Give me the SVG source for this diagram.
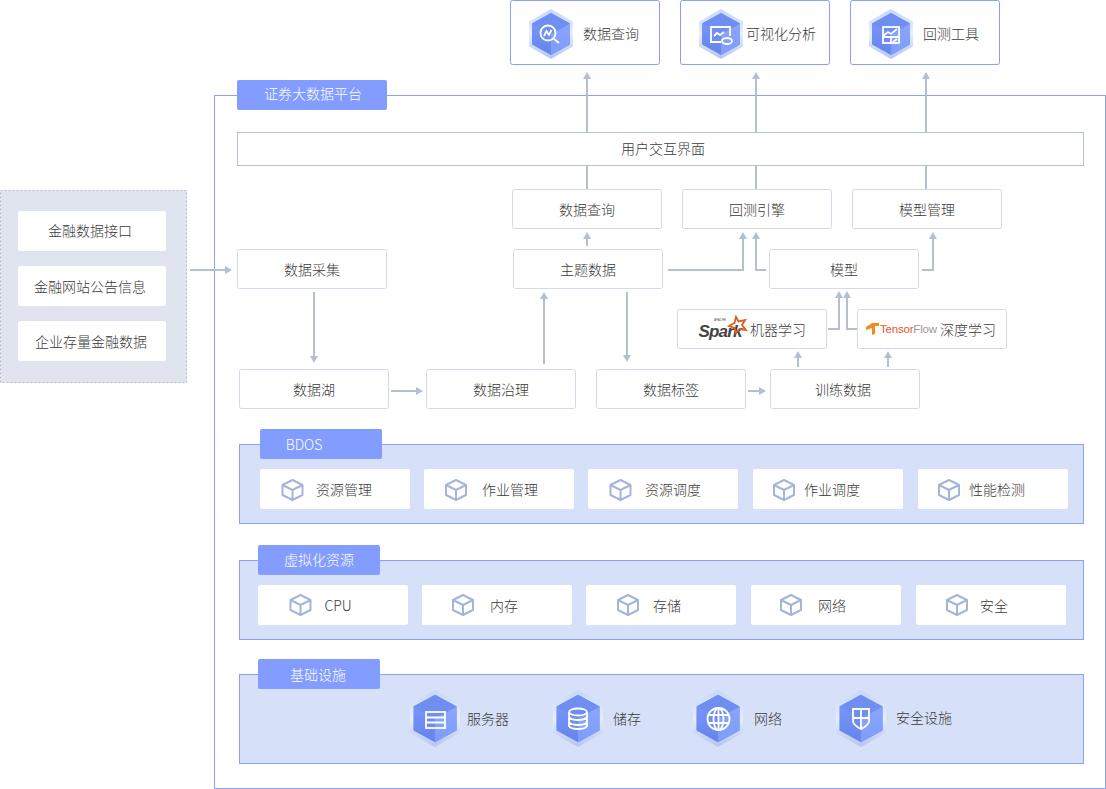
<svg xmlns="http://www.w3.org/2000/svg" width="1106" height="789" viewBox="0 0 1106 789">
<style>
text{font-family:"Noto Sans CJK SC","Noto Sans",sans-serif;font-size:14px;font-weight:300;fill:#3a3a3a;text-anchor:middle;dominant-baseline:central}
.b{fill:#fff;stroke:#d5d9e6;stroke-width:1}
.t{fill:#fff;stroke:#85a0ff;stroke-width:1}
.p{fill:#d6e0f8;stroke:#8ba3f5;stroke-width:1}
.tab{fill:#829cff}
.tab+text{fill:#fff}
.w{fill:#fff}
.c{fill:none;stroke:#b5bfd0;stroke-width:2}
.h{fill:#b5bfd0}
.ic{fill:none;stroke:#fff;stroke-width:1.800}
.cube{fill:none;stroke:#a5b5d8;stroke-width:2;stroke-linejoin:round}
</style>
<defs>
<linearGradient id="g1" x1="0" y1="0" x2="0" y2="1"><stop offset="0" stop-color="#c4d8fb"/><stop offset="0.5" stop-color="#e6eefd"/><stop offset="1" stop-color="#b4c5f0"/></linearGradient>
<linearGradient id="g2" x1="0" y1="0" x2="0" y2="1"><stop offset="0" stop-color="#7f9bfb"/><stop offset="1" stop-color="#6484ec"/></linearGradient>
<linearGradient id="g3" x1="0" y1="0" x2="0" y2="1"><stop offset="0" stop-color="#8aa5ff"/><stop offset="1" stop-color="#7f9cfb"/></linearGradient>
<symbol id="hex" viewBox="-22 -25 44 50" overflow="visible">
<polygon points="0,-25 22,-12.500 22,12.500 0,25 -22,12.500 -22,-12.500" fill="url(#g1)"/>
<polygon points="0,-21 19,-10.500 19,10.500 0,21 -19,10.500 -19,-10.500" fill="url(#g2)"/>
<polygon points="0,0 19,-10.500 19,10.500 0,21" fill="url(#g3)"/>
<polygon points="0,-21 19,-10.500 0,0 -19,-10.500" fill="#6f8ef2"/>
</symbol>
<g id="cb"><path class="cube" d="M0,-10 L10,-5 V5 L0,10 L-10,5 V-5 Z M-10,-5 L0,0 L10,-5 M0,0 V10"/></g>
</defs>
<g id="source">
<rect x="0.500" y="190.500" width="186" height="192" fill="#e0e4ee" stroke="#b4b8c2" stroke-dasharray="2 2"/>
<rect class="w" x="18" y="211" width="148" height="40" rx="2"/><text x="90" y="230">金融数据接口</text>
<rect class="w" x="18" y="266" width="148" height="40" rx="2"/><text x="90" y="286">金融网站公告信息</text>
<rect class="w" x="18" y="321" width="148" height="40" rx="2"/><text x="91" y="341">企业存量金融数据</text>
</g>
<g id="platform">
<rect x="214.500" y="95.500" width="891" height="693" fill="#fff" stroke="#8ba3f5"/>
<rect class="tab" x="237" y="80" width="150" height="30" rx="2"/><text x="313" y="93">证券大数据平台</text>
</g>
<g id="connectors">
<path class="c" d="M587,132V76M756,132V76M926,132V76M587,166V189M756,166V189M926,166V189M587,246V236M190,270H227M314,292V358M391,391H420M544,364V296M627,292V357M668,270H743V236M766,270H756V236M922,270H933V236M748,391H765M828,329H839V296M857,329H847V296M798,367V357M888,367V357"/>
<path class="h" d="M587,72l-4,7h8zM756,72l-4,7h8zM926,72l-4,7h8zM587,232l-4,7h8zM232,270l-7,-4v8zM314,363l-4,-7h8zM423,391l-7,-4v8zM544,292l-4,7h8zM627,362l-4,-7h8zM743,232l-4,7h8zM756,232l-4,7h8zM933,232l-4,7h8zM766,391l-7,-4v8zM839,291l-4,7h8zM847,291l-4,7h8zM798,351l-4,7h8zM888,351l-4,7h8z"/>
</g>
<g id="app-query"><rect class="t" x="510.500" y="0.500" width="149" height="64" rx="2"/><use href="#hex" x="529" y="9" width="44" height="50"/>
<circle class="ic" cx="548" cy="33" r="7.500"/><path class="ic" d="M544,36l2.500,-5 2.500,4 2.500,-5M554,39l5,4"/><text x="611" y="33">数据查询</text></g>
<g id="app-visual"><rect class="t" x="680.500" y="0.500" width="149" height="64" rx="2"/><use href="#hex" x="699" y="9" width="44" height="50"/>
<path class="ic" d="M721,42H711V27H730V36M714,36l3,-3 3,2 4,-3"/><ellipse class="ic" cx="727" cy="41" rx="5" ry="3"/><text x="781" y="33">可视化分析</text></g>
<g id="app-backtest"><rect class="t" x="850.500" y="0.500" width="149" height="64" rx="2"/><use href="#hex" x="869" y="9" width="44" height="50"/>
<rect class="ic" x="883" y="27" width="16" height="16"/><path class="ic" d="M883,36l5,-4 3,2 6,-5M883,37H899M891,37V43M893,42l4,-3"/><text x="951" y="33">回测工具</text></g>
<g id="ui"><rect x="237.500" y="132.500" width="846" height="33" fill="#fff" stroke="#b5bfd6"/><text x="663" y="148">用户交互界面</text></g>
<g id="n-query"><rect class="b" x="512.500" y="189.500" width="149" height="39" rx="2"/><text x="587" y="209">数据查询</text></g>
<g id="n-engine"><rect class="b" x="682.500" y="189.500" width="149" height="39" rx="2"/><text x="757" y="209">回测引擎</text></g>
<g id="n-model-mgmt"><rect class="b" x="852.500" y="189.500" width="149" height="39" rx="2"/><text x="927" y="209">模型管理</text></g>
<g id="n-collect"><rect class="b" x="237.500" y="249.500" width="149" height="39" rx="2"/><text x="312" y="269">数据采集</text></g>
<g id="n-theme"><rect class="b" x="513.500" y="249.500" width="149" height="39" rx="2"/><text x="588" y="269">主题数据</text></g>
<g id="n-model"><rect class="b" x="769.500" y="249.500" width="149" height="39" rx="2"/><text x="844" y="269">模型</text></g>
<g id="n-spark"><rect class="b" x="677.500" y="309.500" width="149" height="39" rx="2"/>
<text x="720" y="331" style="font-family:'Liberation Sans',sans-serif;font-style:italic;font-weight:bold;font-size:17px;fill:#444;letter-spacing:-0.800px">Spark</text>
<text x="720" y="320" style="font-family:'Liberation Sans',sans-serif;font-size:3px;fill:#555">APACHE</text>
<polygon points="736,317 738.500,321.500 745,320 742,325 746,330 739.500,329 736,333 734.500,328 729,326 734.500,323" fill="none" stroke="#e25a1c" stroke-width="1.800"/>
<text x="778" y="329">机器学习</text></g>
<g id="n-tf"><rect class="b" x="857.500" y="309.500" width="149" height="39" rx="2"/>
<path d="M866,327l6,-4 7,0 0,3 -4,0 0,8 -3,1 0,-7 -6,2z" fill="#f58a1f"/>
<text x="880" y="329" style="font-family:'Liberation Sans',sans-serif;font-size:11.500px;fill:#e55b2d;text-anchor:start;letter-spacing:-0.200px">Tensor<tspan fill="#9a9a9a">Flow</tspan></text>
<text x="968" y="329">深度学习</text></g>
<g id="n-lake"><rect class="b" x="239.500" y="369.500" width="149" height="39" rx="2"/><text x="314" y="389">数据湖</text></g>
<g id="n-gov"><rect class="b" x="426.500" y="369.500" width="149" height="39" rx="2"/><text x="501" y="389">数据治理</text></g>
<g id="n-label"><rect class="b" x="596.500" y="369.500" width="149" height="39" rx="2"/><text x="671" y="389">数据标签</text></g>
<g id="n-train"><rect class="b" x="770.500" y="369.500" width="149" height="39" rx="2"/><text x="843" y="389">训练数据</text></g>
<g id="bdos">
<rect class="p" x="239.500" y="444.500" width="844" height="79"/>
<rect class="tab" x="260" y="429" width="122" height="30" rx="2"/><text x="304" y="444">BDOS</text>
<g id="b1"><rect class="w" x="260" y="469" width="150" height="40" rx="2"/><use href="#cb" x="292.500" y="490"/><text x="344" y="489">资源管理</text></g>
<g id="b2"><rect class="w" x="424" y="469" width="150" height="40" rx="2"/><use href="#cb" x="456" y="490"/><text x="510" y="489">作业管理</text></g>
<g id="b3"><rect class="w" x="588" y="469" width="150" height="40" rx="2"/><use href="#cb" x="620.500" y="490"/><text x="673" y="489">资源调度</text></g>
<g id="b4"><rect class="w" x="753" y="469" width="150" height="40" rx="2"/><use href="#cb" x="784" y="490"/><text x="832" y="489">作业调度</text></g>
<g id="b5"><rect class="w" x="918" y="469" width="150" height="40" rx="2"/><use href="#cb" x="949" y="490"/><text x="997" y="489">性能检测</text></g>
</g>
<g id="virtual">
<rect class="p" x="239.500" y="560.500" width="844" height="79"/>
<rect class="tab" x="258" y="545" width="122" height="30" rx="2"/><text x="319" y="559">虚拟化资源</text>
<g id="v1"><rect class="w" x="258" y="585" width="150" height="40" rx="2"/><use href="#cb" x="300.500" y="605"/><text x="338" y="605">CPU</text></g>
<g id="v2"><rect class="w" x="422" y="585" width="150" height="40" rx="2"/><use href="#cb" x="463" y="605"/><text x="504" y="605">内存</text></g>
<g id="v3"><rect class="w" x="586" y="585" width="150" height="40" rx="2"/><use href="#cb" x="628" y="605"/><text x="667" y="605">存储</text></g>
<g id="v4"><rect class="w" x="751" y="585" width="150" height="40" rx="2"/><use href="#cb" x="791" y="605"/><text x="832" y="605">网络</text></g>
<g id="v5"><rect class="w" x="916" y="585" width="150" height="40" rx="2"/><use href="#cb" x="957" y="605"/><text x="994" y="605">安全</text></g>
</g>
<g id="infra">
<rect class="p" x="239.500" y="674.500" width="844" height="89"/>
<rect class="tab" x="258" y="659" width="122" height="30" rx="2"/><text x="318" y="674">基础设施</text>
<g id="i1"><use href="#hex" x="410" y="690" width="50" height="57"/><rect class="ic" x="426" y="712" width="19" height="16"/><path class="ic" d="M426,717.500H445M426,722.500H445"/><text x="488" y="718">服务器</text></g>
<g id="i2"><use href="#hex" x="553" y="690" width="50" height="57"/><ellipse class="ic" cx="578" cy="712" rx="9" ry="3.500"/><path class="ic" d="M569,712V726c2,4 16,4 18,0V712M569,717c2,4 16,4 18,0M569,722c2,4 16,4 18,0"/><text x="627" y="718">储存</text></g>
<g id="i3"><use href="#hex" x="693" y="690" width="50" height="57"/><circle class="ic" cx="718.500" cy="719" r="11"/><ellipse class="ic" cx="718.500" cy="719" rx="5" ry="11"/><path class="ic" d="M718.500,708V730M708,715H729M708,723H729"/><text x="768" y="718">网络</text></g>
<g id="i4"><use href="#hex" x="836" y="690" width="50" height="57"/><path class="ic" d="M853,709H869V721c0,3 -4,6 -8,8c-4,-2 -8,-5 -8,-8ZM861,709V729M853,718H869"/><text x="924" y="717">安全设施</text></g>
</g>
</svg>
